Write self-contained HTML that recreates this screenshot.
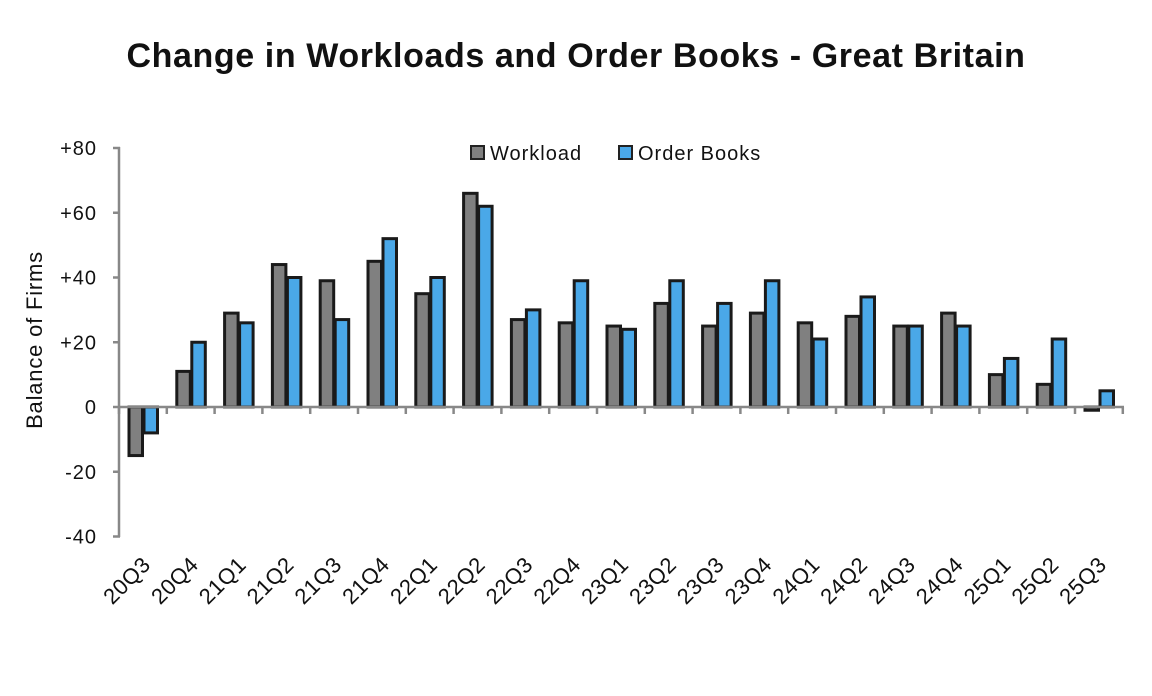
<!DOCTYPE html><html><head><style>body{margin:0;background:#fff}svg{display:block}text{font-family:"Liberation Sans",Arial,sans-serif}</style></head><body>
<svg width="1152" height="696" viewBox="0 0 1152 696" id="s">
<text x="576" y="67" text-anchor="middle" font-size="34" font-weight="bold" fill="#111" letter-spacing="0.6">Change in Workloads and Order Books - Great Britain</text>
<text transform="translate(42,340) rotate(-90)" text-anchor="middle" font-size="22" fill="#111" letter-spacing="0.8">Balance of Firms</text>
<g id="g"></g>
<rect x="471" y="146" width="13" height="13" fill="#808080" stroke="#222" stroke-width="2"/>
<text x="490" y="160" font-size="20" fill="#111" letter-spacing="1">Workload</text>
<rect x="619" y="146" width="13" height="13" fill="#4aa8e8" stroke="#222" stroke-width="2"/>
<text x="638" y="160" font-size="20" fill="#111" letter-spacing="1">Order Books</text>
</svg>
<script>
var W=[-15,11,29,44,39,45,35,66,27,26,25,32,25,29,26,28,25,29,10,7,-1];
var O=[-8,20,26,40,27,52,40,62,30,39,24,39,32,39,21,34,25,25,15,21,5];
var L=["20Q3","20Q4","21Q1","21Q2","21Q3","21Q4","22Q1","22Q2","22Q3","22Q4","23Q1","23Q2","23Q3","23Q4","24Q1","24Q2","24Q3","24Q4","25Q1","25Q2","25Q3"];
var y0=407,k=3.2375,x0=119,cw=47.8,h='';
function Y(v){return y0-v*k}
for(var v=-40;v<=80;v+=20){h+='<line x1="113" x2="120" y1="'+Y(v)+'" y2="'+Y(v)+'" stroke="#888" stroke-width="2.5"/>';
h+='<text x="97" y="'+(Y(v)+7)+'" text-anchor="end" font-size="20" fill="#111" letter-spacing="1">'+(v>0?'+':'')+v+'</text>';}
function bar(x,v,c){var t=Math.min(Y(v),y0),hh=Math.abs(v*k);if(hh<2)hh=2;h+='<rect x="'+x+'" y="'+t+'" width="13.5" height="'+hh+'" fill="'+c+'" stroke="#1a1a1a" stroke-width="3"/>';}
for(var i=0;i<21;i++){var cx=x0+i*cw;bar(cx+10,W[i],'#808080');bar(cx+25,O[i],'#4aa8e8');
var mx=cx+cw/2+9;h+='<text transform="translate('+mx+',566) rotate(-45)" text-anchor="end" font-size="22" fill="#111" letter-spacing="0.5">'+L[i]+'</text>';}
h+='<line x1="119" x2="1124" y1="407" y2="407" stroke="#888" stroke-width="2.5"/>';
for(var i=0;i<=21;i++){var tx=x0+i*cw;h+='<line x1="'+tx+'" x2="'+tx+'" y1="407" y2="414" stroke="#888" stroke-width="2.5"/>';}
h+='<line x1="119" x2="119" y1="147" y2="537" stroke="#888" stroke-width="2.5"/>';
document.getElementById('g').innerHTML=h;
</script>
</body></html>
